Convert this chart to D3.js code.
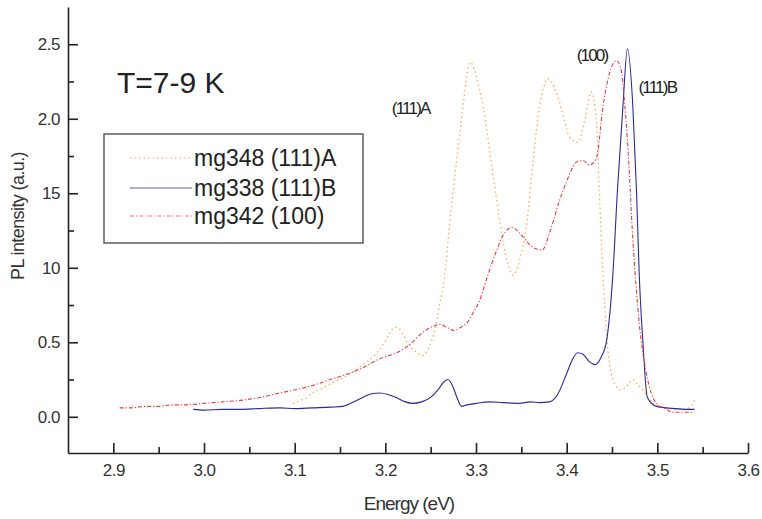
<!DOCTYPE html>
<html>
<head>
<meta charset="utf-8">
<script src="https://cdn.jsdelivr.net/npm/d3@7"></script>
<style>
  body { margin: 0; background: #fff; }
  svg { display: block; font-family: "Liberation Sans", Arial, sans-serif; }
</style>
</head>
<body>
<svg id="chart"></svg>
<script>
// energy (eV) / PL intensity
let mg348 = [
  [3.098, 0.09], [3.11, 0.12], [3.12, 0.16], [3.13, 0.19], [3.142, 0.23], [3.153, 0.26],
  [3.164, 0.30], [3.175, 0.35], [3.186, 0.40], [3.197, 0.48], [3.205, 0.56], [3.210, 0.60],
  [3.215, 0.59], [3.219, 0.56], [3.224, 0.50], [3.229, 0.46], [3.235, 0.43], [3.240, 0.41],
  [3.246, 0.44], [3.251, 0.51], [3.256, 0.62], [3.260, 0.76], [3.265, 0.92], [3.271, 1.30],
  [3.279, 1.74], [3.286, 2.10], [3.290, 2.30], [3.294, 2.38], [3.298, 2.33], [3.302, 2.24],
  [3.308, 2.08], [3.315, 1.79], [3.323, 1.45], [3.330, 1.17], [3.335, 1.03], [3.341, 0.95],
  [3.348, 1.05], [3.356, 1.30], [3.363, 1.72], [3.370, 2.08], [3.375, 2.22], [3.379, 2.27],
  [3.383, 2.25], [3.389, 2.17], [3.395, 2.05], [3.403, 1.88], [3.412, 1.84], [3.420, 1.99],
  [3.427, 2.18], [3.433, 1.97], [3.436, 1.52], [3.440, 0.96], [3.444, 0.56], [3.451, 0.25],
  [3.460, 0.18], [3.467, 0.21], [3.473, 0.25], [3.478, 0.22], [3.484, 0.18], [3.495, 0.09],
  [3.510, 0.06], [3.524, 0.05], [3.535, 0.06], [3.541, 0.11]
];

let mg338 = [
  [2.988, 0.05], [3.000, 0.045], [3.020, 0.05], [3.040, 0.05], [3.060, 0.055], [3.084, 0.06],
  [3.100, 0.055], [3.120, 0.06], [3.140, 0.065], [3.153, 0.07], [3.165, 0.10], [3.175, 0.13],
  [3.185, 0.155], [3.194, 0.16], [3.203, 0.15], [3.212, 0.13], [3.222, 0.10], [3.230, 0.09],
  [3.240, 0.10], [3.250, 0.13], [3.258, 0.18], [3.264, 0.23], [3.269, 0.25], [3.274, 0.21],
  [3.279, 0.13], [3.284, 0.07], [3.290, 0.08], [3.300, 0.09], [3.315, 0.10], [3.330, 0.095],
  [3.348, 0.09], [3.360, 0.10], [3.370, 0.095], [3.381, 0.10], [3.390, 0.15], [3.400, 0.29],
  [3.406, 0.38], [3.412, 0.43], [3.418, 0.42], [3.425, 0.37], [3.431, 0.35], [3.438, 0.40],
  [3.444, 0.51], [3.451, 0.96], [3.456, 1.52], [3.462, 2.08], [3.467, 2.47], [3.473, 2.08],
  [3.477, 1.52], [3.480, 0.96], [3.484, 0.51], [3.489, 0.13], [3.499, 0.07], [3.510, 0.06],
  [3.520, 0.055], [3.530, 0.05], [3.541, 0.05]
];

let mg342 = [
  [2.907, 0.06], [2.920, 0.06], [2.935, 0.07], [2.950, 0.07], [2.965, 0.08], [2.980, 0.08],
  [3.000, 0.09], [3.020, 0.10], [3.040, 0.11], [3.062, 0.13], [3.084, 0.16], [3.100, 0.18],
  [3.120, 0.21], [3.139, 0.25], [3.155, 0.28], [3.172, 0.32], [3.194, 0.39], [3.216, 0.44],
  [3.228, 0.49], [3.238, 0.55], [3.250, 0.60], [3.260, 0.62], [3.268, 0.60], [3.275, 0.58],
  [3.283, 0.60], [3.290, 0.63], [3.297, 0.70], [3.304, 0.78], [3.313, 0.95], [3.323, 1.12],
  [3.330, 1.22], [3.340, 1.27], [3.350, 1.22], [3.362, 1.14], [3.373, 1.12], [3.382, 1.25],
  [3.392, 1.45], [3.400, 1.58], [3.411, 1.71], [3.418, 1.72], [3.425, 1.69], [3.433, 1.74],
  [3.440, 2.08], [3.447, 2.30], [3.455, 2.39], [3.460, 2.33], [3.464, 2.10], [3.467, 1.86],
  [3.473, 1.19], [3.480, 0.63], [3.488, 0.29], [3.499, 0.09], [3.510, 0.05], [3.517, 0.03],
  [3.530, 0.03], [3.541, 0.03]
];

let seriesNames = ["mg348 (111)A", "mg338 (111)B", "mg342 (100)"];
let xTicks = [2.9, 3.0, 3.1, 3.2, 3.3, 3.4, 3.5, 3.6];
let xMinor = [2.95, 3.05, 3.15, 3.25, 3.35, 3.45, 3.55];
let yTicks = [0, 0.5, 1.0, 1.5, 2.0, 2.5];
let yTickLabels = ["0.0", "0.5", "10", "15", "2.0", "2.5"];
let yMinor = [0.25, 0.75, 1.25, 1.75, 2.25];
let peakLabels = [["(111)A", 3.228, 2.03], ["(100)", 3.428, 2.39], ["(111)B", 3.500, 2.17]];

function draw() {
    let w = 762, h = 519;
    let svg = d3.select("#chart").attr("width", w).attr("height", h);

    let x = d3.scaleLinear().domain([2.85, 3.6]).range([68, 748]);
    let y = d3.scaleLinear().domain([-0.243, 2.75]).range([453, 7]);

    svg.append("g").attr("transform", "translate(0,453)")
        .call(d3.axisBottom(x).tickValues(xTicks).tickFormat(d3.format(".1f"))
            .tickSizeInner(-10).tickSizeOuter(0).tickPadding(11));
    svg.append("g").attr("transform", "translate(0,453)")
        .call(d3.axisBottom(x).tickValues(xMinor).tickFormat("")
            .tickSizeInner(-6).tickSizeOuter(0))
        .select(".domain").remove();

    svg.append("g").attr("transform", "translate(68,0)")
        .call(d3.axisLeft(y).tickValues(yTicks).tickFormat((d, i) => yTickLabels[i])
            .tickSizeInner(-10).tickSizeOuter(0).tickPadding(8));
    svg.append("g").attr("transform", "translate(68,0)")
        .call(d3.axisLeft(y).tickValues(yMinor).tickFormat("")
            .tickSizeInner(-6).tickSizeOuter(0))
        .select(".domain").remove();

    svg.selectAll(".domain").attr("stroke", "#222").attr("stroke-width", 1.6);
    svg.selectAll(".tick line").attr("stroke", "#222").attr("stroke-width", 1.6);
    svg.selectAll(".tick text").attr("font-size", 17).attr("fill", "#333")
        .attr("font-family", "Liberation Sans, Arial, sans-serif").attr("letter-spacing", -0.5);

    svg.append("text").attr("x", 409).attr("y", 510).attr("text-anchor", "middle")
        .attr("font-size", 19).attr("letter-spacing", -1).attr("fill", "#333")
        .text("Energy (eV)");
    svg.append("text").attr("transform", "translate(24,216) rotate(-90)")
        .attr("text-anchor", "middle").attr("font-size", 18).attr("letter-spacing", -0.6)
        .attr("fill", "#333").text("PL intensity (a.u.)");

    let line = d3.line().x(d => x(d[0])).y(d => y(d[1])).curve(d3.curveMonotoneX);
    let styles = [
        { data: mg348, color: "#f7ad55", dash: "1.5,3", width: 1.3 },
        { data: mg338, color: "#2b2b9c", dash: null, width: 1.1 },
        { data: mg342, color: "#ee3b3b", dash: "4,2,1.2,2", width: 1.1 }
    ];
    styles.forEach(s => {
        svg.append("path").datum(s.data)
            .attr("fill", "none").attr("stroke", s.color)
            .attr("stroke-width", s.width).attr("stroke-dasharray", s.dash)
            .attr("d", line);
    });

    svg.append("text").attr("x", 117).attr("y", 93).attr("font-size", 30)
        .attr("fill", "#222").text("T=7-9 K");

    // legend
    let lg = svg.append("g");
    lg.append("rect").attr("x", 104).attr("y", 134).attr("width", 259).attr("height", 109)
        .attr("fill", "none").attr("stroke", "#444").attr("stroke-width", 1.3);
    let rows = [158, 188, 216];
    styles.forEach((s, i) => {
        lg.append("line").attr("x1", 130).attr("x2", 192)
            .attr("y1", rows[i]).attr("y2", rows[i])
            .attr("stroke", s.color).attr("stroke-opacity", 0.75)
            .attr("stroke-width", s.width).attr("stroke-dasharray", s.dash);
        lg.append("text").attr("x", 194).attr("y", rows[i] + 8)
            .attr("font-size", 23).attr("fill", "#222").text(seriesNames[i]);
    });

    svg.selectAll(".peak").data(peakLabels).enter().append("text")
        .attr("class", "peak")
        .attr("x", d => x(d[1])).attr("y", d => y(d[2]))
        .attr("text-anchor", "middle").attr("font-size", 17).attr("letter-spacing", -1.8)
        .attr("fill", "#222").text(d => d[0]);
}

window.onload = function() {
    draw();
};
</script>
</body>
</html>
